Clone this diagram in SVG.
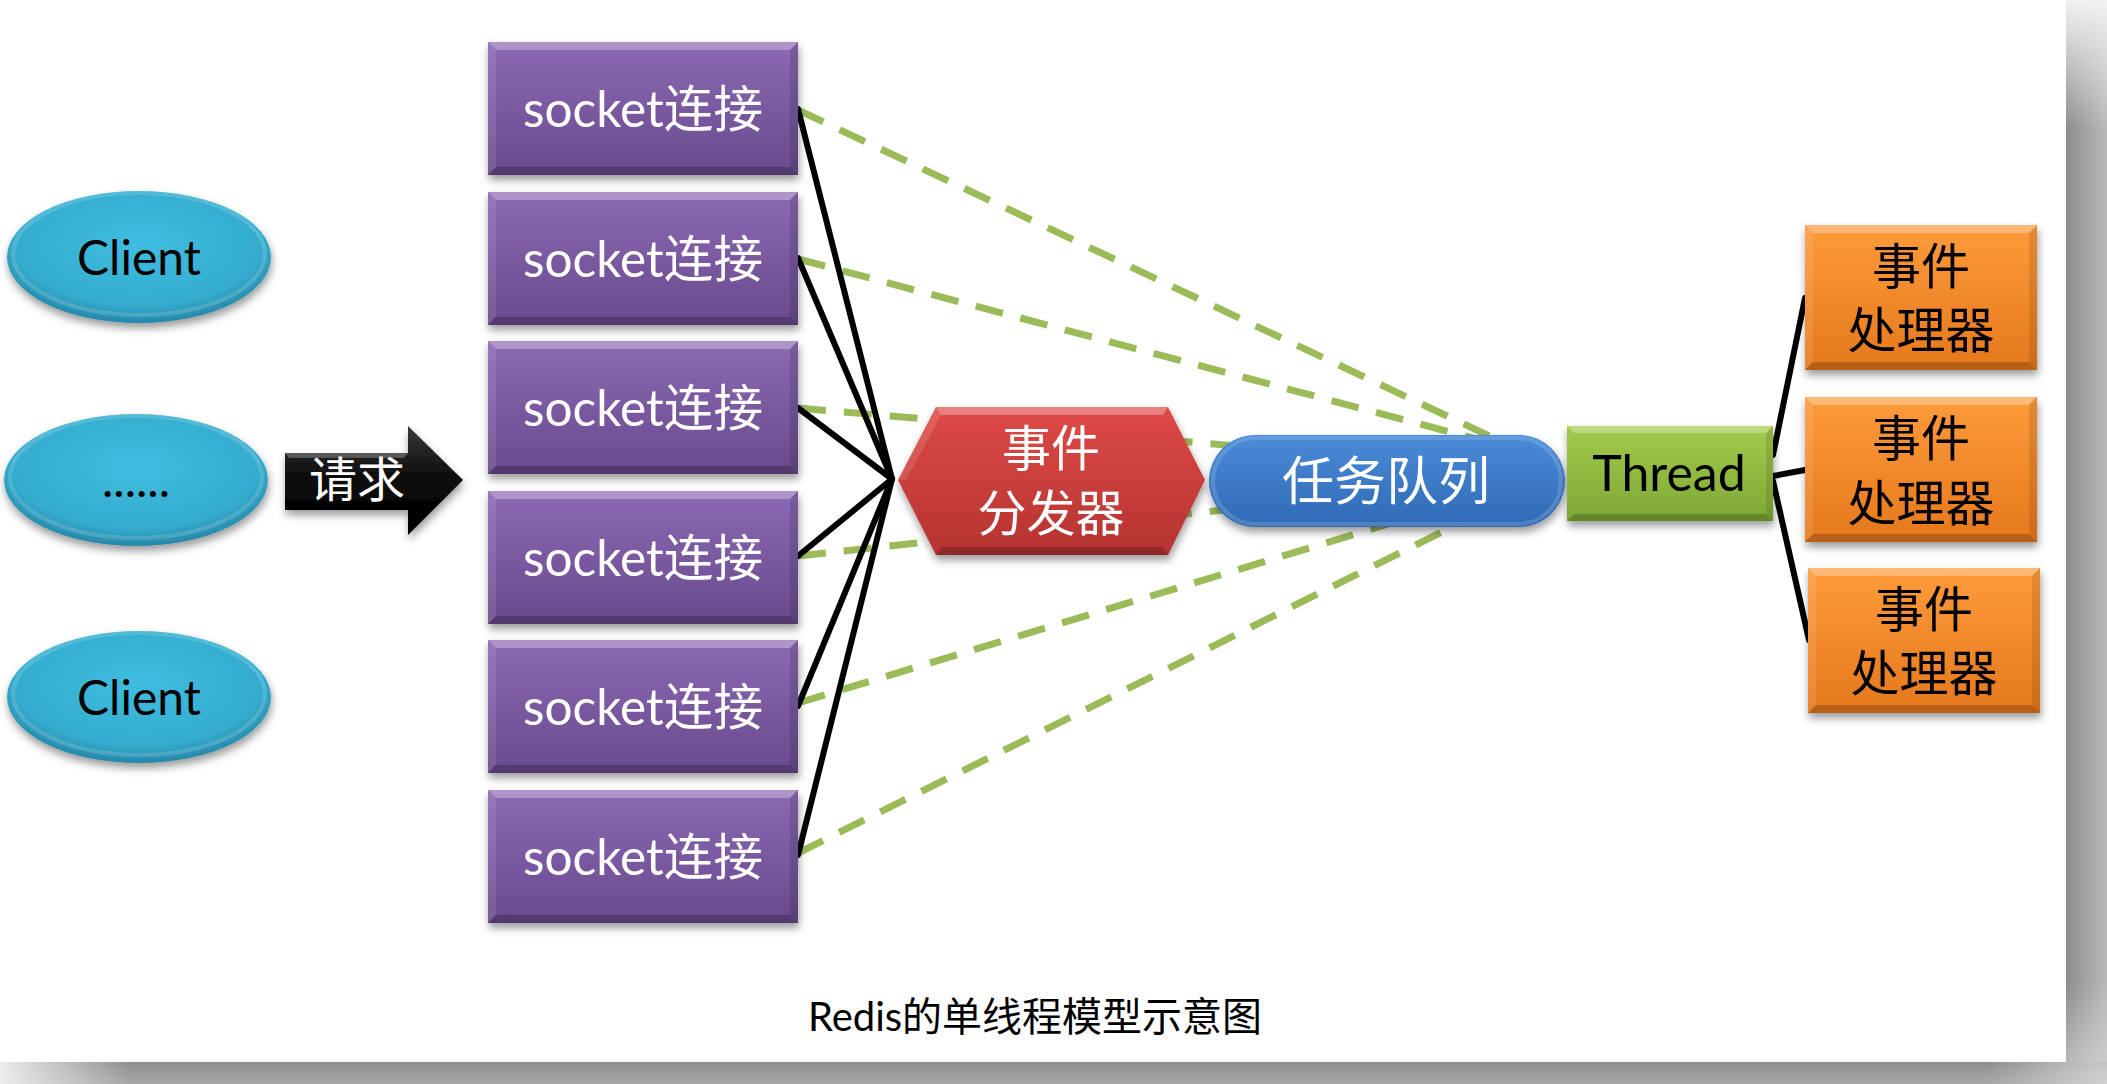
<svg xmlns="http://www.w3.org/2000/svg" xmlns:xlink="http://www.w3.org/1999/xlink" width="2107" height="1084" viewBox="0 0 2107 1084">
  <style>
    .lat { font-family: Lato, "Noto Sans CJK SC", sans-serif; }
    .cjk { font-family: "Noto Sans CJK SC", sans-serif; }
    .w { fill: #ffffff; }
    .k { fill: #000000; }
    .dash { fill: none; stroke: #9bbb59; stroke-width: 7; stroke-dasharray: 28 18; }
    .solid { fill: none; stroke: #000000; stroke-width: 6; stroke-linecap: round; }
  </style>
  <defs>
    <filter id="shadow" x="-10%" y="-10%" width="130%" height="140%">
      <feDropShadow dx="1" dy="5" stdDeviation="4" flood-color="#000" flood-opacity="0.4"/>
    </filter>
    <linearGradient id="gPurple" x1="0" y1="0" x2="0" y2="1">
      <stop offset="0" stop-color="#8b69b4"/>
      <stop offset="1" stop-color="#694a8d"/>
    </linearGradient>
    <linearGradient id="gRed" x1="0" y1="0" x2="0" y2="1">
      <stop offset="0" stop-color="#de4a47"/>
      <stop offset="1" stop-color="#b53330"/>
    </linearGradient>
    <linearGradient id="gBlue" x1="0" y1="0" x2="0" y2="1">
      <stop offset="0" stop-color="#4a8bd8"/>
      <stop offset="1" stop-color="#306ab5"/>
    </linearGradient>
    <linearGradient id="gGreen" x1="0" y1="0" x2="0" y2="1">
      <stop offset="0" stop-color="#a2ca4c"/>
      <stop offset="1" stop-color="#7ea835"/>
    </linearGradient>
    <linearGradient id="gOrange" x1="0" y1="0" x2="0" y2="1">
      <stop offset="0" stop-color="#fd9b3b"/>
      <stop offset="1" stop-color="#e5781c"/>
    </linearGradient>
    <radialGradient id="gCyan" cx="0.5" cy="0.4" r="0.6">
      <stop offset="0" stop-color="#3fbde0"/>
      <stop offset="0.78" stop-color="#34acce"/>
      <stop offset="1" stop-color="#2686a7"/>
    </radialGradient>
    <linearGradient id="gBlack" x1="0" y1="0" x2="0" y2="1">
      <stop offset="0" stop-color="#3a3a3a"/>
      <stop offset="0.5" stop-color="#0a0a0a"/>
      <stop offset="1" stop-color="#000000"/>
    </linearGradient>
    <linearGradient id="gRightStrip" x1="0" y1="0" x2="1" y2="0">
      <stop offset="0" stop-color="#8c8c8c"/>
      <stop offset="1" stop-color="#b9b9b9"/>
    </linearGradient>
    <linearGradient id="gRightTop" x1="0" y1="0" x2="0" y2="1">
      <stop offset="0" stop-color="#f2f2f2" stop-opacity="1"/>
      <stop offset="1" stop-color="#f2f2f2" stop-opacity="0"/>
    </linearGradient>
    <linearGradient id="gBottomStrip" x1="0" y1="0" x2="0" y2="1">
      <stop offset="0" stop-color="#8e8e8e"/>
      <stop offset="1" stop-color="#a8a8a8"/>
    </linearGradient>
    <linearGradient id="gBottomLeft" x1="0" y1="0" x2="1" y2="0">
      <stop offset="0" stop-color="#ececec" stop-opacity="1"/>
      <stop offset="1" stop-color="#ececec" stop-opacity="0"/>
    </linearGradient>
    <radialGradient id="gCorner" cx="1" cy="1" r="1">
      <stop offset="0" stop-color="#d0d0d0" stop-opacity="1"/>
      <stop offset="1" stop-color="#d0d0d0" stop-opacity="0"/>
    </radialGradient>

    <g id="socketShape">
      <rect x="0" y="0" width="310" height="133" fill="url(#gPurple)" filter="url(#shadow)"/>
      <polygon points="0,0 310,0 302,8 8,8" fill="#ffffff" opacity="0.3"/>
      <polygon points="0,0 8,8 8,125 0,133" fill="#ffffff" opacity="0.1"/>
      <polygon points="310,0 310,133 302,125 302,8" fill="#000000" opacity="0.12"/>
      <polygon points="0,133 8,125 302,125 310,133" fill="#000000" opacity="0.22"/>
    </g>
    <g id="handlerShape">
      <rect x="0" y="0" width="232" height="145" fill="url(#gOrange)" filter="url(#shadow)"/>
      <polygon points="0,0 232,0 224,8 8,8" fill="#ffffff" opacity="0.3"/>
      <polygon points="0,0 8,8 8,137 0,145" fill="#ffffff" opacity="0.1"/>
      <polygon points="232,0 232,145 224,137 224,8" fill="#000000" opacity="0.1"/>
      <polygon points="0,145 8,137 224,137 232,145" fill="#000000" opacity="0.2"/>
    </g>
    <g id="clientShape">
      <ellipse cx="0" cy="0" rx="132" ry="66" fill="url(#gCyan)" filter="url(#shadow)"/>
      <ellipse cx="0" cy="-3" rx="126" ry="61" fill="none" stroke="#ffffff" stroke-opacity="0.15" stroke-width="4"/>
    </g>
  </defs>

  <rect x="0" y="0" width="2107" height="1084" fill="#ffffff"/>
  <rect x="2066" y="0" width="41" height="1084" fill="url(#gRightStrip)"/>
  <rect x="2066" y="0" width="41" height="130" fill="url(#gRightTop)"/>
  <rect x="0" y="1062" width="2107" height="22" fill="url(#gBottomStrip)"/>
  <rect x="0" y="1062" width="130" height="22" fill="url(#gBottomLeft)"/>
  <rect x="1987" y="980" width="120" height="104" fill="url(#gCorner)"/>
  <rect x="0" y="0" width="2066" height="1062" fill="#ffffff"/>

  <g id="connectors">
    <g id="dashed">
      <line class="dash" x1="798" y1="110" x2="1500" y2="441"/>
      <line class="dash" x1="798" y1="259" x2="1480" y2="440"/>
      <line class="dash" x1="798" y1="408" x2="1260" y2="448"/>
      <line class="dash" x1="798" y1="556" x2="1260" y2="506"/>
      <line class="dash" x1="798" y1="703" x2="1395" y2="522"/>
      <line class="dash" x1="798" y1="853" x2="1470" y2="518"/>
    </g>
    <g id="solid">
      <line class="solid" x1="798" y1="109" x2="892" y2="479"/>
      <line class="solid" x1="798" y1="258" x2="892" y2="479"/>
      <line class="solid" x1="798" y1="408" x2="892" y2="479"/>
      <line class="solid" x1="798" y1="556" x2="892" y2="479"/>
      <line class="solid" x1="798" y1="706" x2="892" y2="479"/>
      <line class="solid" x1="798" y1="855" x2="892" y2="479"/>
      <line class="solid" x1="1773" y1="455" x2="1805" y2="298"/>
      <line class="solid" x1="1773" y1="476" x2="1805" y2="470"/>
      <line class="solid" x1="1773" y1="481" x2="1809" y2="640"/>
    </g>
  </g>

  <g id="client1">
    <use xlink:href="#clientShape" href="#clientShape" transform="translate(139,257)"/>
    <text class="lat k" x="139" y="275" font-size="48" text-anchor="middle">Client</text>
  </g>
  <g id="client-more">
    <use xlink:href="#clientShape" href="#clientShape" transform="translate(136,480)"/>
    <text class="lat k" x="136" y="497" font-size="48" text-anchor="middle">......</text>
  </g>
  <g id="client2">
    <use xlink:href="#clientShape" href="#clientShape" transform="translate(139,697)"/>
    <text class="lat k" x="139" y="715" font-size="48" text-anchor="middle">Client</text>
  </g>

  <g id="request">
    <polygon points="285,453 408,453 408,426 463,480 408,535 408,510 285,510" fill="url(#gBlack)" filter="url(#shadow)"/>
    <polygon points="285,453 408,453 404,458 289,458" fill="#ffffff" opacity="0.25"/>
    <text class="cjk w" x="357" y="497" font-size="48" text-anchor="middle">请求</text>
  </g>

  <g id="socket1">
    <use xlink:href="#socketShape" href="#socketShape" x="488" y="42"/>
    <text class="lat w" x="643" y="127" font-size="50" text-anchor="middle" textLength="240" lengthAdjust="spacingAndGlyphs">socket连接</text>
  </g>
  <g id="socket2">
    <use xlink:href="#socketShape" href="#socketShape" x="488" y="192"/>
    <text class="lat w" x="643" y="277" font-size="50" text-anchor="middle" textLength="240" lengthAdjust="spacingAndGlyphs">socket连接</text>
  </g>
  <g id="socket3">
    <use xlink:href="#socketShape" href="#socketShape" x="488" y="341"/>
    <text class="lat w" x="643" y="426" font-size="50" text-anchor="middle" textLength="240" lengthAdjust="spacingAndGlyphs">socket连接</text>
  </g>
  <g id="socket4">
    <use xlink:href="#socketShape" href="#socketShape" x="488" y="491"/>
    <text class="lat w" x="643" y="576" font-size="50" text-anchor="middle" textLength="240" lengthAdjust="spacingAndGlyphs">socket连接</text>
  </g>
  <g id="socket5">
    <use xlink:href="#socketShape" href="#socketShape" x="488" y="640"/>
    <text class="lat w" x="643" y="725" font-size="50" text-anchor="middle" textLength="240" lengthAdjust="spacingAndGlyphs">socket连接</text>
  </g>
  <g id="socket6">
    <use xlink:href="#socketShape" href="#socketShape" x="488" y="790"/>
    <text class="lat w" x="643" y="875" font-size="50" text-anchor="middle" textLength="240" lengthAdjust="spacingAndGlyphs">socket连接</text>
  </g>

  <g id="dispatcher">
    <polygon points="898,480 936,407 1168,407 1205,480 1168,555 936,555" fill="url(#gRed)" filter="url(#shadow)"/>
    <polygon points="936,407 1168,407 1163,415 941,415" fill="#ffffff" opacity="0.3"/>
    <polygon points="898,480 936,407 941,415 906,480" fill="#ffffff" opacity="0.12"/>
    <polygon points="936,555 1168,555 1163,547 941,547" fill="#000000" opacity="0.2"/>
    <text class="cjk w" x="1051" y="466" font-size="49" text-anchor="middle">事件</text>
    <text class="cjk w" x="1051" y="531" font-size="49" text-anchor="middle">分发器</text>
  </g>

  <g id="queue">
    <rect x="1209" y="435" width="356" height="92" rx="46" ry="46" fill="url(#gBlue)" filter="url(#shadow)"/>
    <rect x="1213" y="438" width="348" height="86" rx="43" ry="43" fill="none" stroke="#ffffff" stroke-opacity="0.15" stroke-width="4"/>
    <text class="cjk w" x="1386" y="500" font-size="52" text-anchor="middle">任务队列</text>
  </g>

  <g id="thread">
    <rect x="1567" y="426" width="206" height="95" fill="url(#gGreen)" filter="url(#shadow)"/>
    <polygon points="1567,426 1773,426 1766,433 1574,433" fill="#ffffff" opacity="0.3"/>
    <polygon points="1773,426 1773,521 1766,514 1766,433" fill="#000000" opacity="0.1"/>
    <polygon points="1567,521 1574,514 1766,514 1773,521" fill="#000000" opacity="0.2"/>
    <text class="lat k" x="1669" y="491" font-size="50" text-anchor="middle">Thread</text>
  </g>

  <g id="handler1">
    <use xlink:href="#handlerShape" href="#handlerShape" x="1805" y="225"/>
    <text class="cjk k" x="1921" y="284" font-size="49" text-anchor="middle">事件</text>
    <text class="cjk k" x="1921" y="348" font-size="49" text-anchor="middle">处理器</text>
  </g>
  <g id="handler2">
    <use xlink:href="#handlerShape" href="#handlerShape" x="1805" y="397"/>
    <text class="cjk k" x="1921" y="456" font-size="49" text-anchor="middle">事件</text>
    <text class="cjk k" x="1921" y="521" font-size="49" text-anchor="middle">处理器</text>
  </g>
  <g id="handler3">
    <use xlink:href="#handlerShape" href="#handlerShape" x="1808" y="568"/>
    <text class="cjk k" x="1924" y="627" font-size="49" text-anchor="middle">事件</text>
    <text class="cjk k" x="1924" y="691" font-size="49" text-anchor="middle">处理器</text>
  </g>

  <text id="caption" class="lat k" x="1035" y="1031" font-size="40" text-anchor="middle">Redis的单线程模型示意图</text>
</svg>
